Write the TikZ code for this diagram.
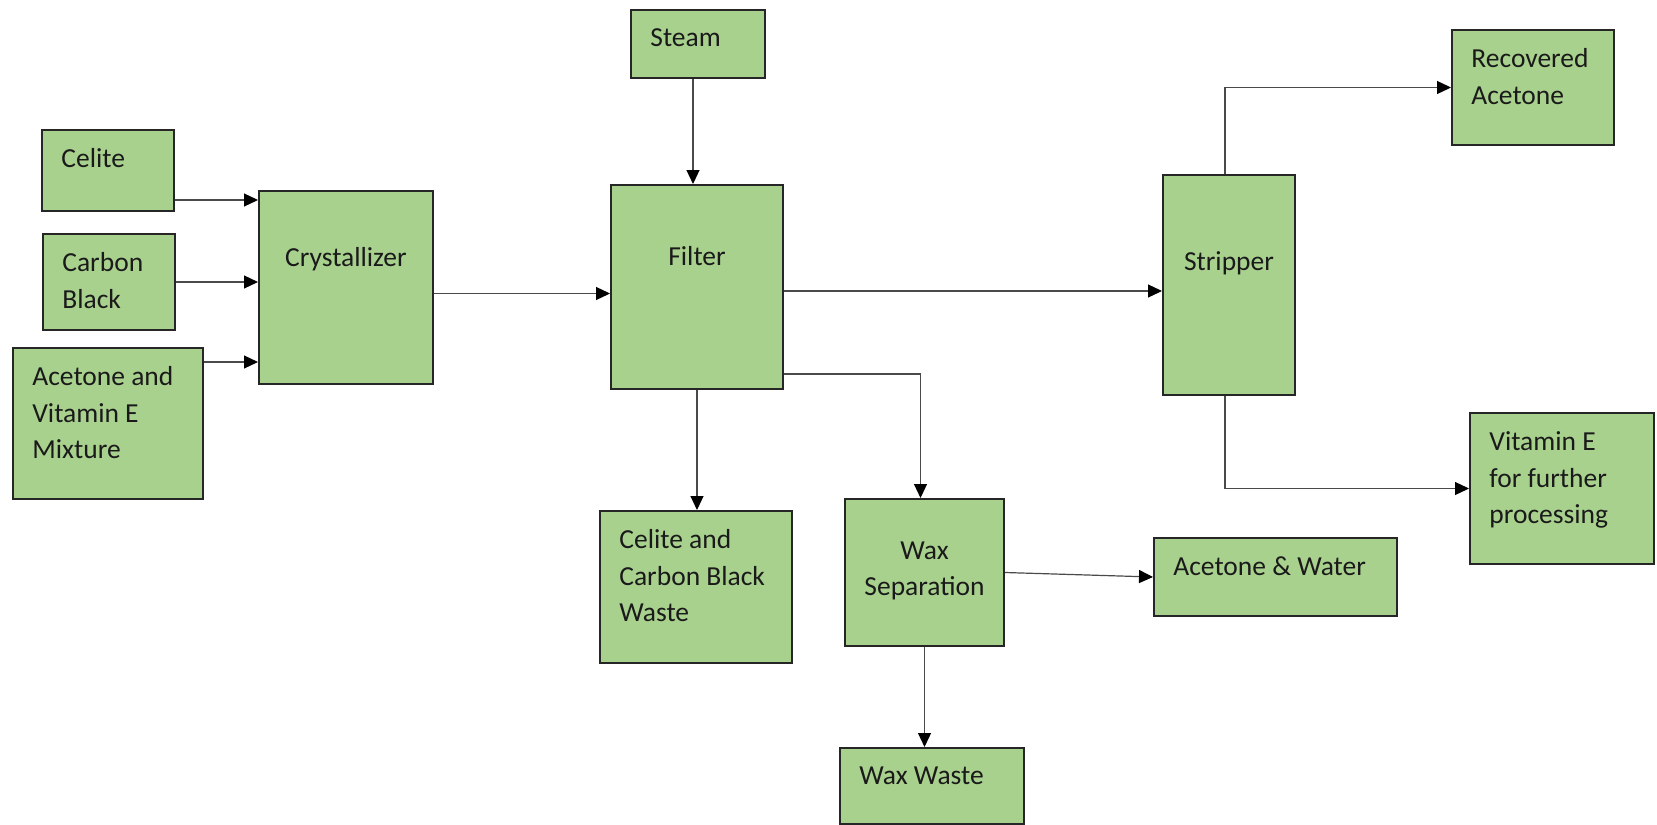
\documentclass[tikz,border=0pt]{standalone}
\usepackage{fontspec}
\setmainfont{Carlito}
\usetikzlibrary{arrows.meta}
\definecolor{boxgreen}{HTML}{A9D18E}
\definecolor{boxline}{HTML}{262626}
\definecolor{flowline}{HTML}{4A4A4A}
\definecolor{txt}{HTML}{1A1A1A}
\begin{document}
\begin{tikzpicture}[x=0.5pt,y=-0.5pt,
    unit/.style={draw=boxline,line width=1pt,fill=boxgreen,anchor=north west,inner sep=0pt},
    lbl/.style={inner sep=0pt,text=txt,align=left,font=\fontsize{13.75}{18.35}\selectfont},
    tl/.style={label={[lbl,anchor=north west,xshift=10pt,yshift=-9.5pt]north west:#1}},
    tc/.style 2 args={label={[lbl,align=center,anchor=north,yshift=-#1]north:#2}},
    flow/.style={draw=flowline,line width=0.6pt,-{Triangle[length=7pt,width=6.5pt,color=black]}}]
  \useasboundingbox (0,0) rectangle (1657,824);

  % feeds
  \node[unit,minimum width=66pt,minimum height=40.5pt,tl={Celite}] (celite) at (41,129) {};
  \node[unit,minimum width=66pt,minimum height=48pt,tl={Carbon\\Black}] (carbon) at (42,233) {};
  \node[unit,minimum width=95pt,minimum height=75.5pt,tl={Acetone and\\Vitamin E\\Mixture}] (mix) at (12,347) {};
  \node[unit,minimum width=67pt,minimum height=34pt,tl={Steam}] (steam) at (630,9) {};

  % process units
  \node[unit,minimum width=87pt,minimum height=96.5pt,tc={28.5pt}{Crystallizer}] (cryst) at (258,190) {};
  \node[unit,minimum width=86pt,minimum height=102pt,tc={31pt}{Filter}] (filter) at (610,184) {};
  \node[unit,minimum width=66pt,minimum height=110pt,tc={38.5pt}{Stripper}] (strip) at (1162,174) {};
  \node[unit,minimum width=79.5pt,minimum height=73.5pt,tc={21.5pt}{Wax\\Separation}] (waxsep) at (844,498) {};

  % products
  \node[unit,minimum width=81pt,minimum height=57.5pt,tl={Recovered\\Acetone}] (recov) at (1451,29) {};
  \node[unit,minimum width=92pt,minimum height=75.5pt,tl={Vitamin E\\for further\\processing}] (vite) at (1469,412) {};
  \node[unit,minimum width=96pt,minimum height=76pt,tl={Celite and\\Carbon Black\\Waste}] (waste) at (599,510) {};
  \node[unit,minimum width=121.5pt,minimum height=39pt,tl={Acetone \& Water}] (aceh2o) at (1153,537) {};
  \node[unit,minimum width=92pt,minimum height=38pt,tl={Wax Waste}] (waxw) at (839,747) {};

  \coordinate (c1) at ([yshift=6pt]celite.south east);
  \coordinate (c2) at ([yshift=-3pt]cryst.east);
  \coordinate (c3) at ([yshift=-2pt]filter.east);
  \coordinate (c4) at ([yshift=8pt]filter.south east);

  \draw[flow] (c1) -- (c1 -| cryst.west);
  \draw[flow] (carbon.east) -- (carbon.east -| cryst.west);
  \draw[flow] ([yshift=-7.5pt]mix.north east) -- ([yshift=-7.5pt]mix.north east -| cryst.west);
  \draw[flow] (c2) -- (c2 -| filter.west);
  \draw[flow] ([xshift=-2.5pt]steam.south) -- ([xshift=-2pt]filter.north);
  \draw[flow] (c3) -- (c3 -| strip.west);
  \draw[flow] (filter.south) -- (filter.south |- waste.north);
  \draw[flow] (c4) -| ([xshift=-2pt]waxsep.north);
  \draw[flow] ([xshift=-2pt]strip.north) |- (recov.west);
  \draw[flow] ([xshift=-2pt]strip.south) |- (vite.west);
  \draw[flow] (waxsep.east) -- (aceh2o.west);
  \draw[flow] (waxsep.south) -- (waxsep.south |- waxw.north);
\end{tikzpicture}
\end{document}
